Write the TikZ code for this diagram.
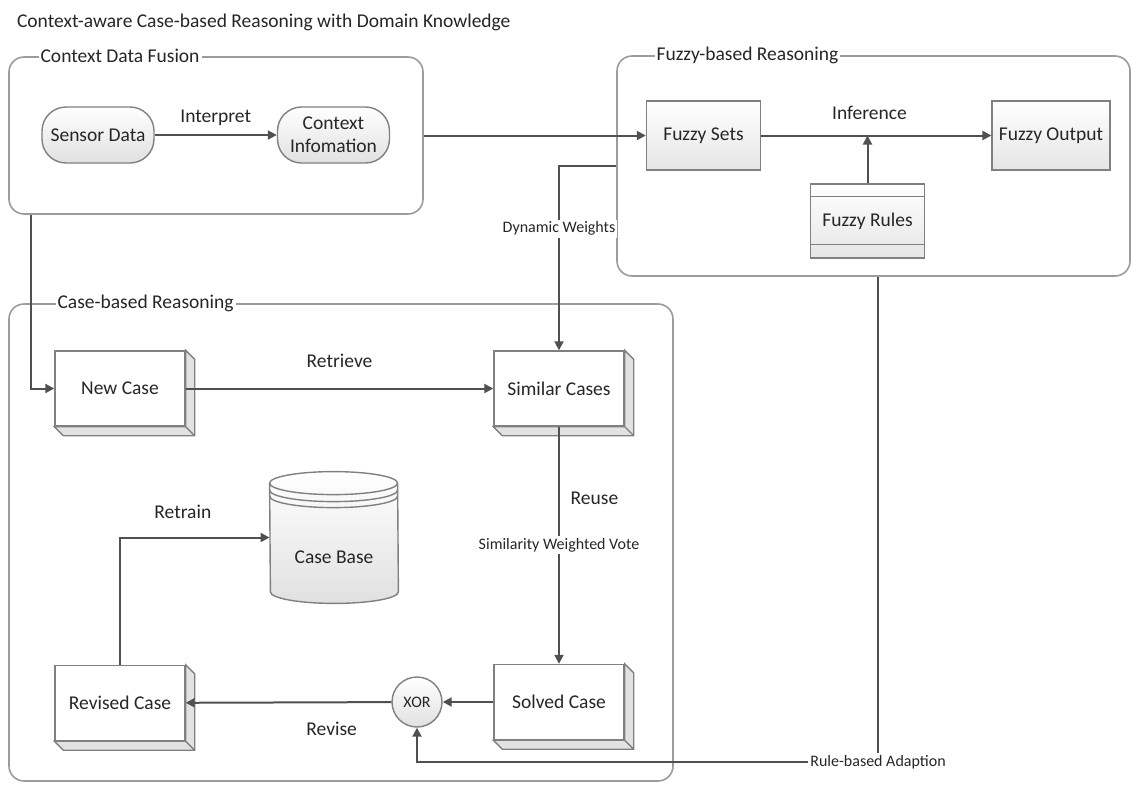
\documentclass[tikz,border=0pt]{standalone}
\usepackage{fontspec}
\setmainfont{Carlito}
\usetikzlibrary{arrows.meta}

\definecolor{lineclr}{HTML}{505050}
\definecolor{boxclr}{HTML}{808080}
\definecolor{groupclr}{HTML}{9C9C9C}
\definecolor{sideclr}{HTML}{E2E2E2}
\definecolor{txtclr}{HTML}{262626}

\begin{document}
\begin{tikzpicture}[x=0.5pt, y=-0.5pt, >={Triangle[length=4.5pt,width=4.5pt]},
  every node/.style={text=txtclr, font=\fontsize{9.75}{11.5}\selectfont},
  small/.style={font=\fontsize{8}{9.5}\selectfont},
  group/.style={draw=groupclr, line width=0.8pt, rounded corners=7.5pt, inner sep=0pt},
  grouplabel/.style={fill=white, anchor=west, inner xsep=1pt, inner ysep=0pt},
  pill/.style={draw=boxclr, line width=0.7pt, rounded corners=12pt, top color=white, bottom color=black!12,
    minimum width=56pt, minimum height=28pt, align=center, inner sep=1pt},
  fbox/.style={draw=boxclr, line width=0.7pt, top color=white, bottom color=black!10,
    minimum width=57pt, minimum height=34.5pt},
  cbox/.style={draw=boxclr, line width=0.7pt, fill=white, minimum width=65pt, minimum height=37.5pt},
  drum/.style={draw=boxclr, line width=0.7pt},
  conn/.style={draw=lineclr, line width=1pt},
  onlabel/.style={small, fill=white, inner sep=1pt}]
  \useasboundingbox (0,0) rectangle (1131,784);

  \node[anchor=west] (title) at (10,22) {Context-aware Case-based Reasoning with Domain Knowledge};

  % groups
  \node[group, minimum width=207pt, minimum height=78.5pt] (fusion) at (216,135.5) {};
  \node[group, minimum width=256.5pt, minimum height=110pt] (fuzzy) at (873.5,166) {};
  \node[group, minimum width=332pt, minimum height=238.5pt] (cbr) at (341,542.5) {};
  \node[grouplabel] (fusionlbl) at ([xshift=15pt]fusion.north west) {Context Data Fusion};
  \node[grouplabel] (fuzzylbl) at ([xshift=19pt]fuzzy.north west) {Fuzzy-based Reasoning};
  \node[grouplabel] (cbrlbl) at ([xshift=23.5pt]cbr.north west) {Case-based Reasoning};

  % context data fusion
  \node[pill] (sensor) at (98,135) {Sensor Data};
  \node[pill] (context) at (333.5,135) {Context\\Infomation};

  % fuzzy-based reasoning
  \node[fbox] (fsets) at (703.5,135.5) {Fuzzy Sets};
  \node[fbox] (fout) at (1051,135.5) {Fuzzy Output};
  \node[fbox, minimum height=37pt] (frules) at (867.5,221) {Fuzzy Rules};
  \draw[boxclr, line width=0.7pt] ([yshift=-6.5pt]frules.north west) -- ([yshift=-6.5pt]frules.north east);
  \draw[boxclr, line width=0.7pt] ([yshift=7pt]frules.south west) -- ([yshift=7pt]frules.south east);

  % case-based reasoning
  \node[cbox] (newcase) at (120,388.5) {New Case};
  \node[cbox] (similar) at (559,388.5) {Similar Cases};
  \node[cbox] (solved) at (559,702) {Solved Case};
  \node[cbox] (revised) at (120,703) {Revised Case};
  \foreach \n in {newcase,similar,solved,revised}
    \filldraw[fill=sideclr, draw=boxclr, line width=0.7pt] (\n.north east) -- ++(4.5pt,-4.5pt)
      -- ([shift={(4.5pt,-4.5pt)}]\n.south east) -- ([shift={(4.5pt,-4.5pt)}]\n.south west)
      -- (\n.south west) -- (\n.south east) -- cycle (\n.south east) -- ++(4.5pt,-4.5pt);
  \node[minimum width=64pt, minimum height=65.5pt, inner sep=0pt] (casebase) at (334,537.5) {};
  \draw[drum, top color=white, bottom color=black!12]
    ([yshift=-5.75pt]casebase.north west) arc[start angle=180, end angle=0, x radius=32pt, y radius=5.75pt]
    -- ([yshift=5.75pt]casebase.south east) arc[start angle=0, end angle=-180, x radius=32pt, y radius=5.75pt]
    -- cycle;
  \foreach \d in {0,3.5,6.5}
    \draw[drum] ([yshift=-5.75pt-\d pt]casebase.north west) arc[start angle=180, end angle=360, x radius=32pt, y radius=5.75pt];
  \node (cbtext) at ([yshift=-9.75pt]casebase.center) {Case Base};
  \node[circle, draw=boxclr, line width=0.7pt, top color=white, bottom color=black!12,
    minimum size=25pt, inner sep=0pt, small] (xor) at (417,702) {XOR};

  \coordinate (adapt) at (878,762);

  \draw[conn, ->] (sensor) -- node[yshift=8.5pt] {Interpret} (context);
  \draw[conn, ->] (fusion.east) -- (fsets);
  \draw[conn, ->] (fsets) -- node[pos=0.47, yshift=11.25pt] {Inference} (fout);
  \draw[conn, ->] (frules) -- (frules |- fsets);
  \draw[conn, ->] (fuzzy.west) -| node[onlabel, pos=0.67] {Dynamic Weights} (similar);
  \draw[conn, ->] ([xshift=11.5pt]fusion.south west) |- (newcase);
  \draw[conn, ->] (newcase) -- node[yshift=14pt] {Retrieve} (similar);
  \draw[conn, ->] (similar) -- node[pos=0.3, right=2pt] {Reuse}
    node[onlabel, pos=0.5] {Similarity Weighted Vote} (solved);
  \draw[conn, ->] (solved) -- (xor);
  \draw[conn, ->] (xor) -- node[pos=0.29, yshift=-13.5pt] {Revise} (revised);
  \draw[conn, ->] (revised) |- node[pos=0.71, yshift=12.75pt] {Retrain} (casebase);
  \draw[conn, ->] (fuzzy.south -| adapt) -- (adapt) node[onlabel] {Rule-based Adaption} -| (xor);
\end{tikzpicture}
\end{document}
